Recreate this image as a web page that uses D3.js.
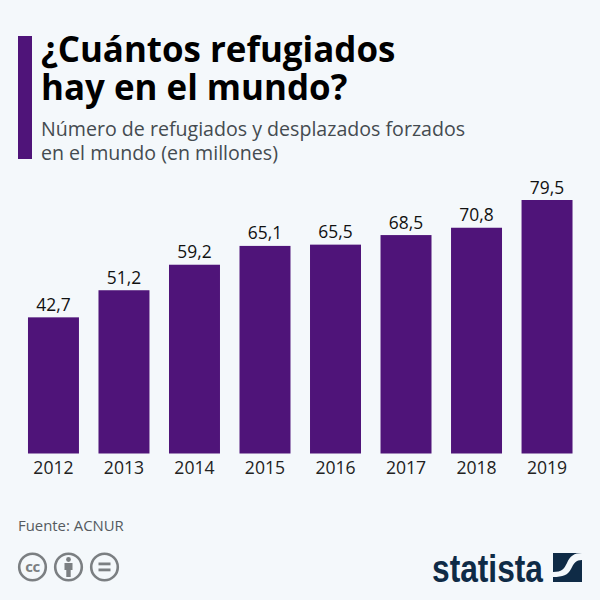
<!DOCTYPE html>
<html lang="es"><head><meta charset="utf-8">
<script src="https://cdn.jsdelivr.net/npm/d3@7"></script>
<style>html,body{margin:0;padding:0;background:#f4f8fb}svg{display:block}text{font-family:"Open Sans",sans-serif}</style>
</head><body><svg id="c" width="600" height="600"></svg>
<script>
const years = ["2012","2013","2014","2015","2016","2017","2018","2019"];
const refugees = [42.7,51.2,59.2,65.1,65.5,68.5,70.8,79.5];
const titleLines = ["¿Cuántos refugiados","hay en el mundo?"];
const subtitleLines = ["Número de refugiados y desplazados forzados","en el mundo (en millones)"];
const source = "Fuente: ACNUR";
const purple = "#4f1479";

const svg = d3.select("#c");
svg.append("rect").attr("width",600).attr("height",600).attr("fill","#f4f8fb");
svg.append("rect").attr("x",18).attr("y",36).attr("width",14).attr("height",123).attr("fill",purple);

svg.selectAll(".t").data(titleLines).join("text").attr("class","t")
  .attr("x",41).attr("y",(d,i)=>62+i*38).attr("font-size",34.9).attr("font-weight",700).attr("fill","#000").text(d=>d);
svg.selectAll(".s").data(subtitleLines).join("text").attr("class","s")
  .attr("x",41).attr("y",(d,i)=>136+i*23.5).attr("font-size",19.6).attr("fill","#444b50").text(d=>d);

const x = d3.scaleBand().domain(years).range([18.25,582.25]).paddingInner(0.277).paddingOuter(0.138);
const y = d3.scaleLinear().domain([0,79.5]).range([453.5,200]);

svg.selectAll(".b").data(years).join("rect").attr("class","b")
  .attr("x",d=>x(d)).attr("width",x.bandwidth())
  .attr("y",(d,i)=>y(refugees[i])).attr("height",(d,i)=>y(0)-y(refugees[i]))
  .attr("fill",purple);
svg.selectAll(".v").data(years).join("text").attr("class","v")
  .attr("x",d=>x(d)+x.bandwidth()/2).attr("y",(d,i)=>y(refugees[i])-6.5)
  .attr("text-anchor","middle").attr("font-size",17.4).attr("fill","#111")
  .text((d,i)=>d3.format(".1f")(refugees[i]).replace(".",","));

const axis = d3.axisBottom(x).tickSize(0).tickPadding(7);
const ag = svg.append("g").attr("transform","translate(0,453.5)").call(axis);
ag.select(".domain").remove();
ag.selectAll("text").attr("font-size",17.6).attr("fill","#222").attr("dy","0.78em").style("font-family",'"Open Sans",sans-serif');

svg.append("text").attr("x",18).attr("y",531).attr("font-size",14.9).attr("fill","#555b60").text(source);

// licence icons
const grey="#7b7f82";
[32.5,68.5,104.5].forEach(cx=>svg.append("circle").attr("cx",cx).attr("cy",567).attr("r",13.3).attr("fill","none").attr("stroke",grey).attr("stroke-width",2.6));
svg.append("text").attr("x",32.5).attr("y",572).attr("text-anchor","middle").attr("font-size",15).attr("font-weight",700).attr("fill",grey).attr("letter-spacing",-0.5).text("cc");
svg.append("circle").attr("cx",68.5).attr("cy",559.5).attr("r",2.4).attr("fill",grey);
svg.append("path").attr("d","M64.5 563h8v7h-1.8v7h-4.4v-7h-1.8z").attr("fill",grey);
svg.append("rect").attr("x",98.5).attr("y",562.5).attr("width",12).attr("height",2.8).attr("fill",grey);
svg.append("rect").attr("x",98.5).attr("y",568.5).attr("width",12).attr("height",2.8).attr("fill",grey);

// statista logo
svg.append("text").attr("x",432).attr("y",581.5).attr("textLength",111).attr("lengthAdjust","spacingAndGlyphs")
  .attr("font-size",39).attr("font-weight",700).attr("fill","#0f2b46")
  .style("font-family",'"Liberation Sans Narrow","Liberation Sans",sans-serif').text("statista");
svg.append("rect").attr("x",553).attr("y",553).attr("width",29).attr("height",29).attr("fill","#0f2b46");
svg.append("path").attr("d","M553 572C562 572 564 569 567 563C570 556 574 553 582 553V560C576 560 574 563 571 569C568 575 563 577 553 577Z").attr("fill","#f4f8fb");
</script></body></html>
